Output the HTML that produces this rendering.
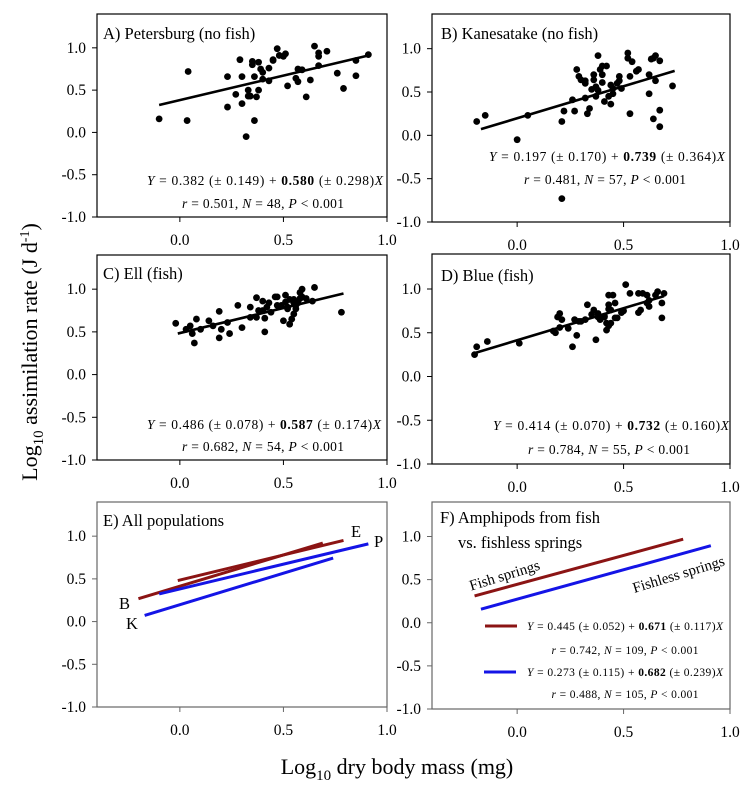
<!DOCTYPE html>
<html><head><meta charset="utf-8">
<style>
html,body{margin:0;padding:0;background:#fff;}
svg{display:block;font-family:"Liberation Serif",serif;}
</style></head>
<body>
<svg id="fig" width="751" height="790" viewBox="0 0 751 790" xmlns="http://www.w3.org/2000/svg">
<rect width="751" height="790" fill="#fff"/>
<g id="marks"></g>
<text x="103" y="39" font-size="16.5">A) Petersburg (no fish)</text>
<text x="441" y="39" font-size="16.5">B) Kanesatake (no fish)</text>
<text x="103" y="279" font-size="16.5">C) Ell (fish)</text>
<text x="441" y="281" font-size="16.5">D) Blue (fish)</text>
<text x="103" y="526" font-size="16.5">E) All populations</text>
<text x="440" y="523" font-size="16.5">F) Amphipods from fish</text>
<text x="458" y="548" font-size="16.5">vs. fishless springs</text>
<g font-size="13.5" text-anchor="middle">
<text x="265" y="185" textLength="236"><tspan font-style="italic">Y</tspan> = 0.382 (± 0.149) + <tspan font-weight="bold">0.580</tspan> (± 0.298)<tspan font-style="italic">X</tspan></text>
<text x="263" y="208" textLength="162"><tspan font-style="italic">r</tspan> = 0.501, <tspan font-style="italic">N</tspan> = 48, <tspan font-style="italic">P</tspan> &lt; 0.001</text>
<text x="607" y="161" textLength="236"><tspan font-style="italic">Y</tspan> = 0.197 (± 0.170) + <tspan font-weight="bold">0.739</tspan> (± 0.364)<tspan font-style="italic">X</tspan></text>
<text x="605" y="184" textLength="162"><tspan font-style="italic">r</tspan> = 0.481, <tspan font-style="italic">N</tspan> = 57, <tspan font-style="italic">P</tspan> &lt; 0.001</text>
<text x="264" y="429" textLength="234"><tspan font-style="italic">Y</tspan> = 0.486 (± 0.078) + <tspan font-weight="bold">0.587</tspan> (± 0.174)<tspan font-style="italic">X</tspan></text>
<text x="263" y="451" textLength="162"><tspan font-style="italic">r</tspan> = 0.682, <tspan font-style="italic">N</tspan> = 54, <tspan font-style="italic">P</tspan> &lt; 0.001</text>
<text x="611" y="430" textLength="236"><tspan font-style="italic">Y</tspan> = 0.414 (± 0.070) + <tspan font-weight="bold">0.732</tspan> (± 0.160)<tspan font-style="italic">X</tspan></text>
<text x="609" y="454" textLength="162"><tspan font-style="italic">r</tspan> = 0.784, <tspan font-style="italic">N</tspan> = 55, <tspan font-style="italic">P</tspan> &lt; 0.001</text>
</g>
<g font-size="11.5" text-anchor="middle">
<text x="625" y="630" textLength="196"><tspan font-style="italic">Y</tspan> = 0.445 (± 0.052) + <tspan font-weight="bold">0.671</tspan> (± 0.117)<tspan font-style="italic">X</tspan></text>
<text x="625" y="654" textLength="147"><tspan font-style="italic">r</tspan> = 0.742, <tspan font-style="italic">N</tspan> = 109, <tspan font-style="italic">P</tspan> &lt; 0.001</text>
<text x="625" y="676" textLength="196"><tspan font-style="italic">Y</tspan> = 0.273 (± 0.115) + <tspan font-weight="bold">0.682</tspan> (± 0.239)<tspan font-style="italic">X</tspan></text>
<text x="625" y="698" textLength="147"><tspan font-style="italic">r</tspan> = 0.488, <tspan font-style="italic">N</tspan> = 105, <tspan font-style="italic">P</tspan> &lt; 0.001</text>
</g>
<line x1="485" y1="626" x2="517" y2="626" stroke="#8b1414" stroke-width="3"/>
<line x1="484" y1="672" x2="516" y2="672" stroke="#1414e6" stroke-width="3"/>
<g font-size="16.5">
<text x="119" y="609">B</text>
<text x="126" y="629">K</text>
<text x="351" y="537">E</text>
<text x="374" y="547">P</text>
</g>
<text x="506" y="580" font-size="15" text-anchor="middle" transform="rotate(-17 506 580)">Fish springs</text>
<text x="680" y="579" font-size="15" text-anchor="middle" transform="rotate(-17 680 579)">Fishless springs</text>
<text x="0" y="0" font-size="22" text-anchor="middle" transform="translate(37 352) rotate(-90)">Log<tspan font-size="15" dy="6">10</tspan><tspan dy="-6"> assimilation rate (J d</tspan><tspan font-size="14" dy="-8">-1</tspan><tspan dy="8">)</tspan></text>
<text x="397" y="774" font-size="22" text-anchor="middle">Log<tspan font-size="15" dy="6">10</tspan><tspan dy="-6"> dry body mass (mg)</tspan></text>
</svg>
<script>
const yTicks = [-1.0, -0.5, 0.0, 0.5, 1.0];
const yTickLabels = ["-1.0", "-0.5", "0.0", "0.5", "1.0"];
const xTicks = [0.0, 0.5, 1.0];
const xTickLabels = ["0.0", "0.5", "1.0"];

const aX = [-0.10,0.035,0.04,0.23,0.27,0.23,0.29,0.30,0.33,0.33,0.32,0.34,0.35,0.35,0.36,0.36,0.37,0.38,0.38,0.39,0.40,0.40,0.43,0.43,0.45,0.47,0.48,0.50,0.51,0.52,0.56,0.57,0.57,0.59,0.61,0.63,0.65,0.67,0.67,0.67,0.71,0.76,0.79,0.85,0.85,0.91,0.30,0.45];
const aY = [0.16,0.14,0.72,0.66,0.45,0.30,0.86,0.34,0.50,0.43,-0.05,0.43,0.80,0.84,0.66,0.14,0.42,0.50,0.83,0.75,0.71,0.63,0.61,0.76,0.85,0.99,0.91,0.90,0.93,0.55,0.64,0.75,0.60,0.74,0.42,0.62,1.02,0.90,0.94,0.79,0.96,0.70,0.52,0.67,0.85,0.92,0.66,0.86];
const bX = [-0.19,-0.15,0.05,0.00,0.21,0.22,0.21,0.26,0.27,0.28,0.29,0.30,0.32,0.32,0.33,0.34,0.35,0.36,0.37,0.38,0.38,0.39,0.40,0.40,0.41,0.42,0.43,0.44,0.45,0.45,0.47,0.48,0.48,0.52,0.52,0.53,0.53,0.54,0.56,0.57,0.62,0.62,0.63,0.64,0.64,0.65,0.65,0.67,0.67,0.67,0.73,0.49,0.37,0.40,0.32,0.44,0.36];
const bY = [0.16,0.23,0.23,-0.05,0.16,0.28,-0.73,0.41,0.28,0.76,0.68,0.64,0.60,0.43,0.25,0.31,0.53,0.64,0.56,0.52,0.92,0.76,0.70,0.80,0.39,0.80,0.45,0.36,0.48,0.54,0.60,0.68,0.63,0.95,0.89,0.68,0.25,0.85,0.74,0.76,0.70,0.48,0.88,0.89,0.19,0.63,0.92,0.86,0.29,0.10,0.57,0.54,0.45,0.61,0.63,0.58,0.70];
const cX = [-0.02,0.05,0.06,0.07,0.08,0.10,0.14,0.19,0.20,0.19,0.23,0.24,0.28,0.30,0.34,0.34,0.37,0.37,0.40,0.40,0.41,0.41,0.42,0.44,0.46,0.47,0.49,0.50,0.51,0.51,0.52,0.53,0.53,0.54,0.55,0.55,0.56,0.57,0.58,0.58,0.59,0.59,0.61,0.64,0.65,0.78,0.38,0.47,0.52,0.56,0.55,0.03,0.43,0.16];
const cY = [0.60,0.57,0.48,0.37,0.65,0.53,0.63,0.74,0.53,0.43,0.61,0.48,0.81,0.55,0.79,0.67,0.67,0.90,0.86,0.75,0.50,0.66,0.79,0.73,0.91,0.91,0.81,0.63,0.93,0.85,0.77,0.59,0.88,0.65,0.84,0.88,0.81,0.84,0.89,0.96,1.00,0.91,0.89,0.86,1.02,0.73,0.75,0.81,0.79,0.77,0.71,0.53,0.84,0.57];
const dX = [-0.20,-0.19,-0.14,0.01,0.17,0.18,0.20,0.19,0.20,0.21,0.26,0.28,0.29,0.27,0.32,0.33,0.35,0.36,0.37,0.38,0.39,0.41,0.42,0.42,0.43,0.43,0.43,0.44,0.45,0.46,0.47,0.49,0.51,0.53,0.50,0.57,0.57,0.58,0.59,0.61,0.61,0.62,0.62,0.65,0.66,0.68,0.68,0.69,0.43,0.44,0.46,0.41,0.38,0.30,0.24];
const dY = [0.25,0.34,0.40,0.38,0.52,0.50,0.56,0.68,0.72,0.65,0.34,0.47,0.63,0.65,0.65,0.82,0.71,0.76,0.42,0.72,0.65,0.69,0.53,0.61,0.77,0.82,0.93,0.61,0.93,0.84,0.67,0.73,1.05,0.95,0.75,0.73,0.95,0.76,0.95,0.93,0.84,0.87,0.80,0.93,0.97,0.84,0.67,0.95,0.58,0.76,0.67,0.68,0.68,0.63,0.55];

const fitA = [0.382, 0.580, -0.10, 0.91];
const fitB = [0.197, 0.739, -0.17, 0.74];
const fitC = [0.486, 0.587, -0.01, 0.79];
const fitD = [0.414, 0.732, -0.20, 0.69];
const fitFish = [0.445, 0.671, -0.20, 0.78];
const fitFishless = [0.273, 0.682, -0.17, 0.91];

const NS = "http://www.w3.org/2000/svg";
const root = document.getElementById("marks");
function mk(tag, attrs, parent) {
  const e = document.createElementNS(NS, tag);
  for (const k in attrs) e.setAttribute(k, attrs[k]);
  (parent || root).appendChild(e);
  return e;
}
function panel(key, l, r, t, b, frameColor) {
  const sx = v => l + (v + 0.4) / 1.4 * (r - l);
  const sy = v => b - (v + 1.0) / 2.4 * (b - t);
  const g = mk("g", {});
  
  
  const box = mk("rect", {x: l, y: t, width: r - l, height: b - t, fill: "none", stroke: frameColor, "stroke-width": 1.2}, g);
  
  
  yTicks.forEach((v, i) => {
    const y = sy(v);
    mk("line", {x1: l - 5, x2: l, y1: y, y2: y, stroke: frameColor, "stroke-width": 1}, g);
    const tx = mk("text", {x: l - 11, y: y + 5, "font-size": 15.5, "text-anchor": "end"}, g);
    tx.textContent = yTickLabels[i];
    
    
  });
  xTicks.forEach((v, i) => {
    const x = sx(v);
    mk("line", {x1: x, x2: x, y1: b, y2: b + 5, stroke: frameColor, "stroke-width": 1}, g);
    const tx = mk("text", {x: x, y: b + 28, "font-size": 15.5, "text-anchor": "middle"}, g);
    tx.textContent = xTickLabels[i];
    
    
  });
  return {g, sx, sy};
}
function scatter(p, xs, ys, key) {
  xs.forEach((x, i) => {
    const c = mk("circle", {cx: p.sx(x), cy: p.sy(ys[i]), r: 3.4, fill: "#000"}, p.g);
    
    
  });
}
function fitLine(p, f, color, w, name) {
  const ln = mk("line", {x1: p.sx(f[2]), y1: p.sy(f[0] + f[1] * f[2]), x2: p.sx(f[3]), y2: p.sy(f[0] + f[1] * f[3]), stroke: color, "stroke-width": w}, p.g);
  
  
}
const pA = panel("a", 97, 387, 14, 217, "#000");
const pB = panel("b", 432, 730, 14, 222, "#000");
const pC = panel("c", 97, 387, 255, 460, "#000");
const pD = panel("d", 432, 730, 254, 464, "#000");
const pE = panel("e", 97, 387, 502, 707, "#666");
const pF = panel("f", 432, 730, 502, 709, "#666");
scatter(pA, aX, aY, "a"); fitLine(pA, fitA, "#000", 2.6, "regression-line-a");
scatter(pB, bX, bY, "b"); fitLine(pB, fitB, "#000", 2.6, "regression-line-b");
scatter(pC, cX, cY, "c"); fitLine(pC, fitC, "#000", 2.6, "regression-line-c");
scatter(pD, dX, dY, "d"); fitLine(pD, fitD, "#000", 2.6, "regression-line-d");
fitLine(pE, fitD, "#8b1414", 3, "line-blue-spring");
fitLine(pE, fitC, "#8b1414", 3, "line-ell-spring");
fitLine(pE, fitA, "#1414e6", 3, "line-petersburg");
fitLine(pE, fitB, "#1414e6", 3, "line-kanesatake");
fitLine(pF, fitFish, "#8b1414", 3, "line-fish-springs");
fitLine(pF, fitFishless, "#1414e6", 3, "line-fishless-springs");
</script>
</body></html>
